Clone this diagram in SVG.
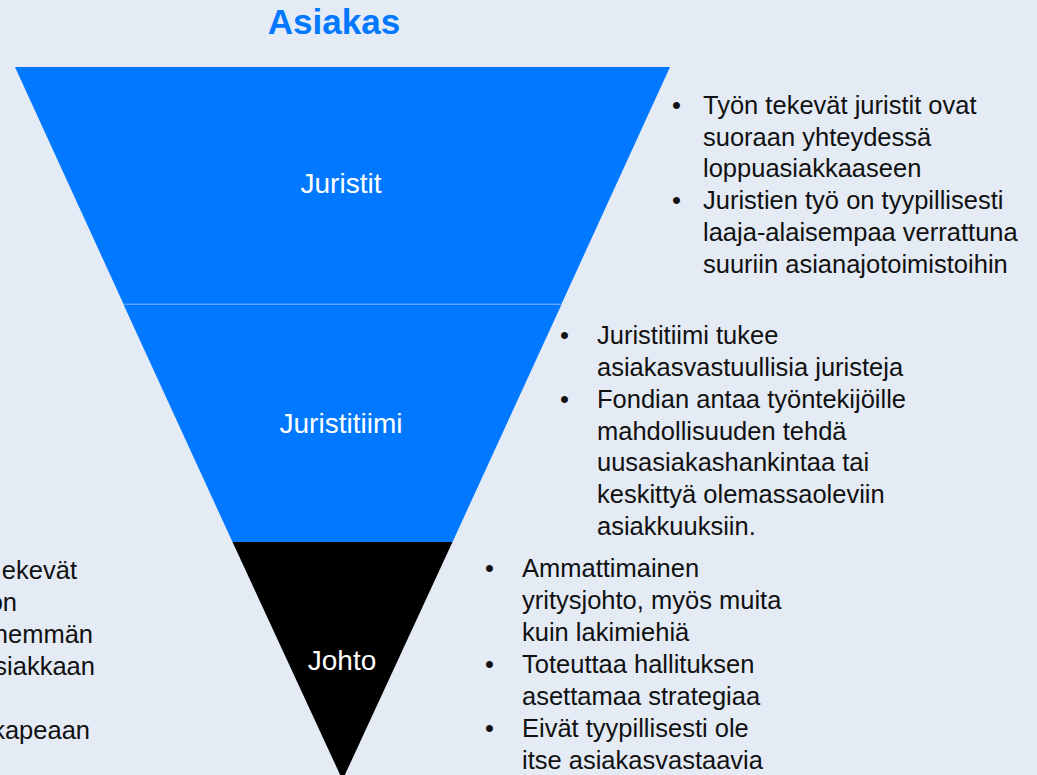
<svg xmlns="http://www.w3.org/2000/svg" width="1037" height="775" viewBox="0 0 1037 775">
<style>
.bg{fill:#E4EBF5}
.blue{fill:#0078FF}
.black{fill:#000000}
.title{font-family:"Liberation Sans",Arial,sans-serif;font-weight:bold;font-size:35px;fill:#0078FF}
.lbl{font-family:"Liberation Sans",Arial,sans-serif;font-size:28px;fill:#FFFFFF;text-anchor:middle}
.txt{font-family:"Liberation Sans",Arial,sans-serif;font-size:25.5px;fill:#111111}
</style>
<rect class="bg" x="0" y="0" width="1037" height="775"/>
<text id="title" class="title" x="334" y="34" text-anchor="middle">Asiakas</text>
<g id="juristit">
<polygon class="blue" points="15,67 670,67 561.5,304 123.5,304"/>
<text class="lbl" x="341" y="193">Juristit</text>
</g>
<g id="juristitiimi">
<polygon class="blue" points="123.5,304.5 561.5,304.5 452.5,542 232.5,542"/>
<text class="lbl" x="341" y="433">Juristitiimi</text>
</g>
<g id="johto">
<polygon class="black" points="232.5,542 452.5,542 342.5,780"/>
<text class="lbl" x="342" y="670">Johto</text>
</g>
<g id="connectors">
<line x1="123.5" y1="304" x2="561.5" y2="304" stroke="#4A9BFF" stroke-width="1"/>
</g>
<g id="notes-juristit" class="txt">
<text x="672" y="114">•</text>
<text x="703" y="114">Työn tekevät juristit ovat</text>
<text x="703" y="146">suoraan yhteydessä</text>
<text x="703" y="177">loppuasiakkaaseen</text>
<text x="672" y="209">•</text>
<text x="703" y="209">Juristien työ on tyypillisesti</text>
<text x="703" y="241">laaja-alaisempaa verrattuna</text>
<text x="703" y="273">suuriin asianajotoimistoihin</text>
</g>
<g id="notes-juristitiimi" class="txt">
<text x="560" y="344">•</text>
<text x="597" y="344">Juristitiimi tukee</text>
<text x="597" y="376">asiakasvastuullisia juristeja</text>
<text x="560" y="408">•</text>
<text x="597" y="408">Fondian antaa työntekijöille</text>
<text x="597" y="440">mahdollisuuden tehdä</text>
<text x="597" y="471">uusasiakashankintaa tai</text>
<text x="597" y="503">keskittyä olemassaoleviin</text>
<text x="597" y="535">asiakkuuksiin.</text>
</g>
<g id="notes-johto" class="txt">
<text x="485" y="577">•</text>
<text x="522" y="577">Ammattimainen</text>
<text x="522" y="609">yritysjohto, myös muita</text>
<text x="522" y="641">kuin lakimiehiä</text>
<text x="485" y="673">•</text>
<text x="522" y="673">Toteuttaa hallituksen</text>
<text x="522" y="705">asettamaa strategiaa</text>
<text x="485" y="737">•</text>
<text x="522" y="737">Eivät tyypillisesti ole</text>
<text x="522" y="769">itse asiakasvastaavia</text>
</g>
<g id="notes-left" class="txt" text-anchor="end">
<text x="77" y="579">ekevät</text>
<text x="17" y="611">ön</text>
<text x="93" y="643">nemmän</text>
<text x="95" y="675">siakkaan</text>
<text x="90" y="739">kapeaan</text>
</g>
</svg>
